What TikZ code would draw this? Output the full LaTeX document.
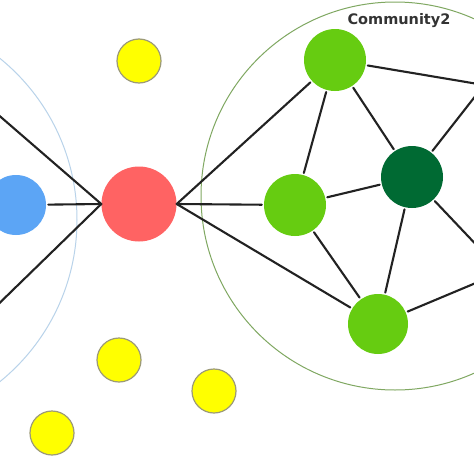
\documentclass[tikz,border=0pt]{standalone}
\usepackage{fontspec}
\newfontfamily\labelfont{DejaVu Sans}
\usepackage{xcolor}
\usetikzlibrary{arrows.meta}
\definecolor{seedred}{HTML}{FF6363}
\definecolor{memblue}{HTML}{5CA5F5}
\definecolor{memgreen}{HTML}{66CC11}
\definecolor{hubgreen}{HTML}{006A33}
\definecolor{lonely}{HTML}{FFFF00}
\definecolor{lonelyrim}{HTML}{9C9A78}
\definecolor{ringblue}{HTML}{B9D3EA}
\definecolor{ringgreen}{HTML}{80A862}
\definecolor{linkgray}{HTML}{222222}
\definecolor{labelgray}{HTML}{333333}
\tikzset{
  every picture/.style={line join=round, line cap=round},
  vertex/.style={circle, inner sep=0pt, minimum size=#1},
  link/.style={draw=linkgray, line width=2.1pt, shorten >=2pt},
  ring/.style={line width=1pt},
}

\begin{document}
\begin{tikzpicture}[x=1pt,y=-1pt]
\useasboundingbox (0,0) rectangle (474,474);
\clip (0,0) rectangle (474,474);
\fill[white] (0,0) rectangle (474,474);
% communities
\draw[ring,ringblue] (-131,220) circle[radius=208pt];
\draw[ring,ringgreen] (395,196) circle[radius=194pt];
\node[font=\labelfont\bfseries\fontsize{14.5}{17}\selectfont,text=labelgray] (c2name) at (399,21) {Community2};
% nodes
\node[vertex=75pt,fill=seedred] (seed) at (139,204) {};
\node[vertex=60pt,fill=memblue] (blue) at (16,205) {};
\node[vertex=62pt,fill=memgreen] (gtop) at (335,60) {};
\node[vertex=62pt,fill=memgreen] (gleft) at (295,205) {};
\node[vertex=62pt,fill=hubgreen] (hub) at (412,177) {};
\node[circle,inner sep=0pt,minimum width=56pt,minimum height=60pt,fill=memgreen] (gbot) at (378,324) {};
\foreach \name/\pos in {y1/{(139,61)},y2/{(119,360)},y3/{(214,391)},y4/{(52,433)}}
  \node[vertex=44pt,fill=lonely,draw=lonelyrim,line width=1.2pt] (\name) at \pos {};
% ends outside the frame
\coordinate (lup) at (-20,99);
\coordinate (ldown) at (-20,322);
\coordinate (rup) at (484,85);
\coordinate (rdown) at (502,272);
% edges
\draw[link] (seed.west) -- (blue);
\draw[link] (seed.west) -- (lup);
\draw[link] (seed.west) -- (ldown);
\draw[link] (seed.east) -- (gleft);
\draw[link] (seed.east) -- (gtop);
\draw[link] (seed.east) -- (gbot);
\draw[link,shorten <=2pt] (gtop) -- (gleft);
\draw[link,shorten <=2pt] (gtop) -- (hub);
\draw[link,shorten <=2pt] (gtop) -- (rup);
\draw[link,shorten <=2pt] (hub) -- (rup);
\draw[link,shorten <=2pt] (gleft) -- (hub);
\draw[link,shorten <=2pt] (gleft) -- (gbot);
\draw[link,shorten <=2pt] (hub) -- (gbot);
\draw[link,shorten <=2pt] (hub) -- (rdown);
\draw[link,shorten <=2pt] (gbot) -- (rdown);
\end{tikzpicture}
\end{document}
